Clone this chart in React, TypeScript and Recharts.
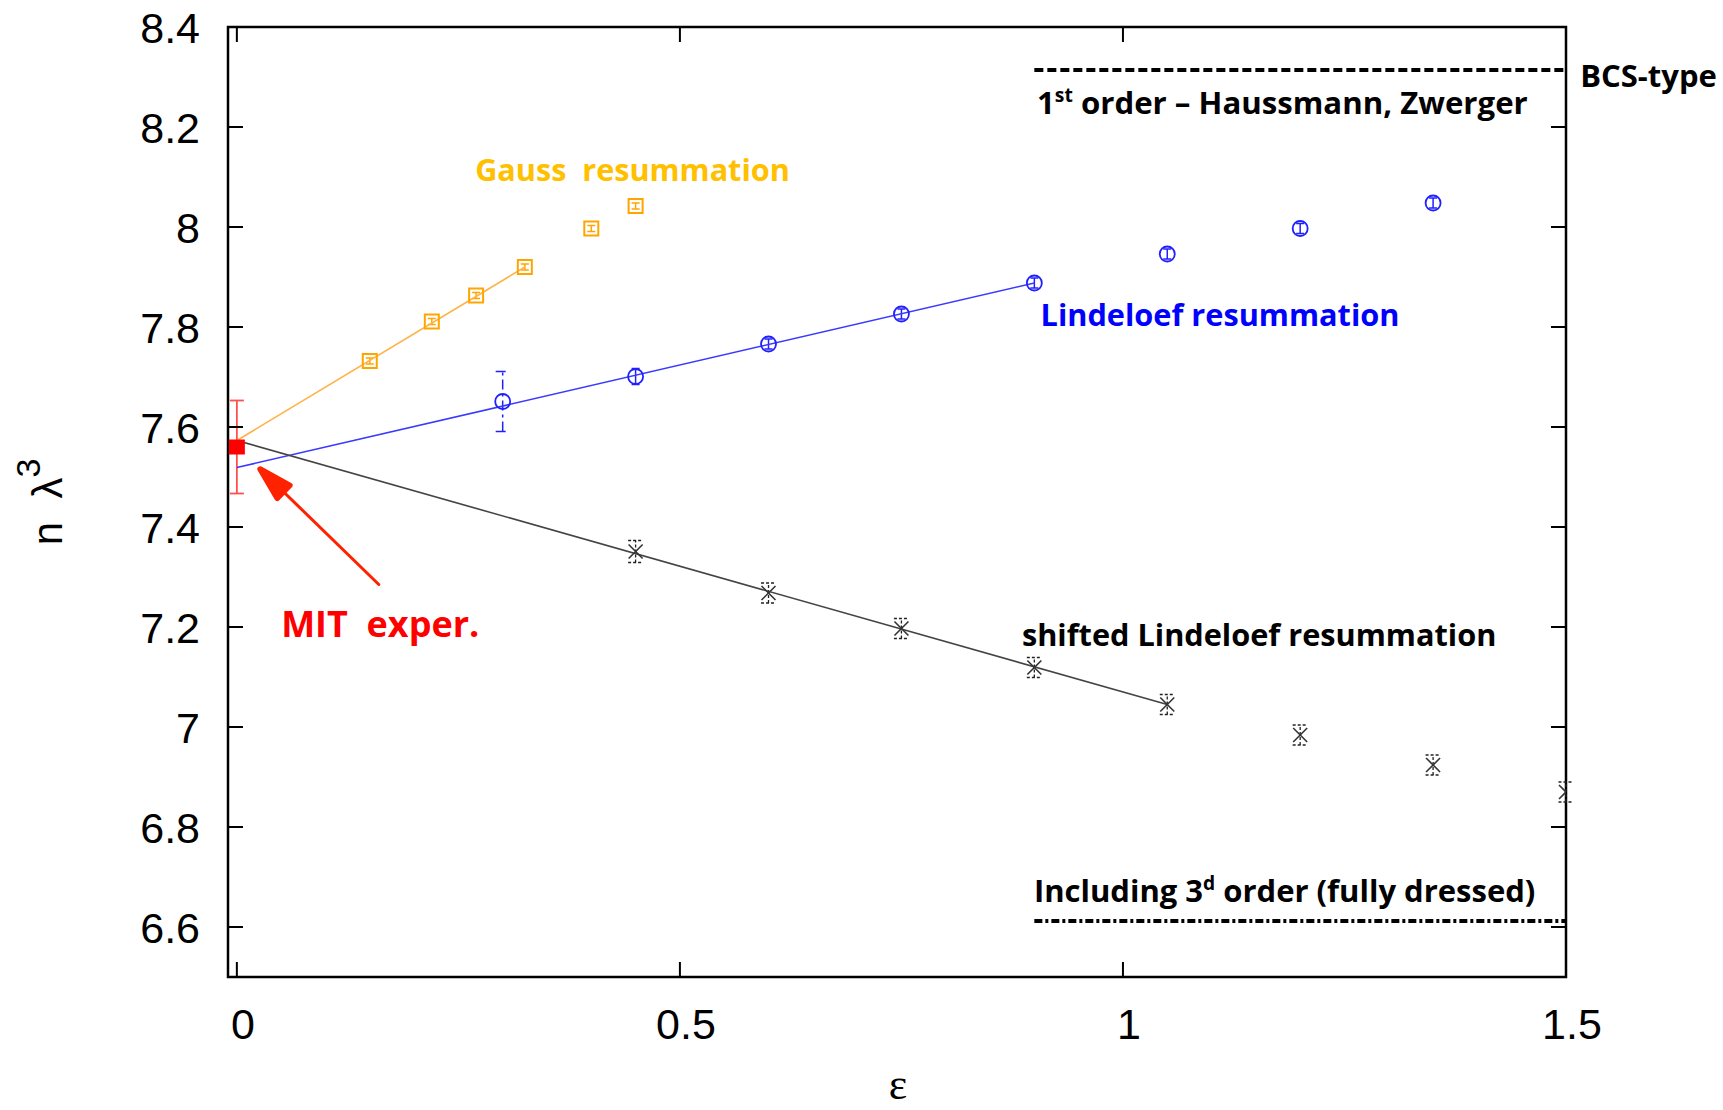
import React from 'react';
import {
  ScatterChart,
  Scatter,
  XAxis,
  YAxis,
  ErrorBar,
  ReferenceLine,
  ReferenceArea,
  ReferenceDot,
} from 'recharts';

// Gauss resummation (orange squares)
const gaussEps = [0.15, 0.22, 0.27, 0.325, 0.4, 0.45];
const gaussN = [7.732, 7.811, 7.863, 7.92, 7.997, 8.042];
const gaussErr = [0.006, 0.006, 0.006, 0.006, 0.006, 0.006];

// Lindeloef resummation (blue circles)
const lindEps = [0.3, 0.45, 0.6, 0.75, 0.9, 1.05, 1.2, 1.35];
const lindN = [7.651, 7.701, 7.766, 7.826, 7.888, 7.946, 7.997, 8.048];
const lindErr = [0.06, 0.016, 0.01, 0.01, 0.01, 0.01, 0.01, 0.01];

// shifted Lindeloef resummation (black crosses)
const shiftEps = [0.45, 0.6, 0.75, 0.9, 1.05, 1.2, 1.35, 1.5];
const shiftN = [7.351, 7.268, 7.197, 7.119, 7.045, 6.984, 6.924, 6.87];
const shiftErr = [0.022, 0.02, 0.02, 0.02, 0.02, 0.02, 0.02, 0.02];

// MIT experiment
const mitEps = [0];
const mitN = [7.56];
const mitErr = [0.093];

// linear extrapolations to eps = 0
const gaussFit = [{ x: 0, y: 7.573 }, { x: 0.325, y: 7.92 }];
const lindFit = [{ x: 0, y: 7.519 }, { x: 0.9, y: 7.888 }];
const shiftFit = [{ x: 0, y: 7.573 }, { x: 1.05, y: 7.045 }];

// horizontal reference results
const bcsLevel = 8.314;
const thirdOrderLevel = 6.612;
const refLineStart = 0.9;

const xDomain = [-0.01, 1.5];
const yDomain = [6.5, 8.4];
const xTicks = [0, 0.5, 1, 1.5];
const yTicks = [6.6, 6.8, 7, 7.2, 7.4, 7.6, 7.8, 8, 8.2, 8.4];

const toPoints = (xs: number[], ys: number[], errs: number[]) =>
  xs.map((x, i) => ({ x, y: ys[i], err: errs[i] }));

const gaussPts = toPoints(gaussEps, gaussN, gaussErr);
const lindPts = toPoints(lindEps, lindN, lindErr);
const shiftPts = toPoints(shiftEps, shiftN, shiftErr);
const mitPts = toPoints(mitEps, mitN, mitErr);

const PLOT_W = 1338;
const PLOT_H = 950;
const TICK = 15;
const NUM_FONT = "'Liberation Sans', Arial, sans-serif";
const TEXT_FONT = "'Open Sans', 'Noto Sans', sans-serif";

type Part = { t: string; sup?: boolean };
type Note = { x: number; y: number; parts: Part[]; color: string; size: number };

const notes: Note[] = [
  { x: 0.269, y: 8.093, parts: [{ t: 'Gauss  resummation' }], color: '#ffc000', size: 30.6 },
  { x: 0.907, y: 7.803, parts: [{ t: 'Lindeloef resummation' }], color: '#0000ff', size: 30.7 },
  { x: 0.886, y: 7.162, parts: [{ t: 'shifted Lindeloef resummation' }], color: '#000', size: 30.7 },
  { x: 0.05, y: 7.18, parts: [{ t: 'MIT  exper.' }], color: '#ff0000', size: 36 },
  {
    x: 0.903,
    y: 8.226,
    parts: [{ t: '1' }, { t: 'st', sup: true }, { t: ' order – Haussmann, Zwerger' }],
    color: '#000',
    size: 31.2,
  },
  { x: 1.516, y: 8.28, parts: [{ t: 'BCS-type' }], color: '#000', size: 31 },
  {
    x: 0.8995,
    y: 6.65,
    parts: [{ t: 'Including 3' }, { t: 'd', sup: true }, { t: ' order (fully dressed)' }],
    color: '#000',
    size: 31,
  },
];

const arrowTail = { x: 0.1602, y: 7.285 };
const arrowTip = { x: 0.0262, y: 7.516 };

const XTick = (props: any) => {
  const { x, y, payload } = props;
  return (
    <g>
      <line x1={x} y1={y} x2={x} y2={y - TICK} stroke="#000" strokeWidth={2} />
      <line x1={x} y1={y - PLOT_H} x2={x} y2={y - PLOT_H + TICK} stroke="#000" strokeWidth={2} />
      <text x={x + 6} y={y + 61.5} textAnchor="middle" fontSize={43} fontFamily={NUM_FONT} fill="#000">
        {String(payload.value)}
      </text>
    </g>
  );
};

const YTick = (props: any) => {
  const { x, y, payload } = props;
  return (
    <g>
      <line x1={x} y1={y} x2={x + TICK} y2={y} stroke="#000" strokeWidth={2} />
      <line x1={x + PLOT_W - TICK} y1={y} x2={x + PLOT_W} y2={y} stroke="#000" strokeWidth={2} />
      <text x={x - 28} y={y + 15.5} textAnchor="end" fontSize={43} fontFamily={NUM_FONT} fill="#000">
        {String(payload.value)}
      </text>
    </g>
  );
};

const XTitle = (props: any) => {
  const vb = props.viewBox || { x: 228, y: 977, width: PLOT_W, height: 133 };
  return (
    <text
      x={vb.x + vb.width / 2 + 1}
      y={vb.y + 122}
      textAnchor="middle"
      fontSize={44}
      fontFamily="'Liberation Serif', 'DejaVu Serif', serif"
      fill="#000"
    >
      ε
    </text>
  );
};

const YTitle = (props: any) => {
  const vb = props.viewBox || { x: 0, y: 27, width: 228, height: PLOT_H };
  const cy = vb.y + vb.height / 2;
  return (
    <text
      transform={`translate(${vb.x + 62}, ${cy}) rotate(-90)`}
      textAnchor="middle"
      fontSize={42}
      fontFamily={NUM_FONT}
      fill="#000"
      style={{ whiteSpace: 'pre' }}
    >
      {'n  λ'}
      <tspan fontSize={34} dy={-22}>
        3
      </tspan>
    </text>
  );
};

const Square = (p: any) => (
  <rect x={p.cx - 7} y={p.cy - 7} width={14} height={14} fill="none" stroke="#ffa500" strokeWidth={2} />
);
const Ring = (p: any) => <circle cx={p.cx} cy={p.cy} r={7.5} fill="none" stroke="#2020ff" strokeWidth={1.8} />;
const Cross = (p: any) => (
  <g stroke="#333" strokeWidth={1.6}>
    <line x1={p.cx - 7} y1={p.cy - 7} x2={p.cx + 7} y2={p.cy + 7} />
    <line x1={p.cx - 7} y1={p.cy + 7} x2={p.cx + 7} y2={p.cy - 7} />
  </g>
);
const RedSquare = (p: any) => <rect x={p.cx - 8} y={p.cy - 7.5} width={16} height={15} fill="#ff0000" />;
const NoDot = () => <g />;

const Arrow = (p: any) => {
  const { x1, y1, x2, y2 } = p;
  const ang = Math.atan2(y1 - y2, x1 - x2);
  const L = 34;
  const h = 0.27;
  const w1 = `${x2 + L * Math.cos(ang + h)},${y2 + L * Math.sin(ang + h)}`;
  const w2 = `${x2 + L * Math.cos(ang - h)},${y2 + L * Math.sin(ang - h)}`;
  return (
    <g stroke="#ff2200" strokeLinecap="round" strokeLinejoin="round">
      <line x1={x1} y1={y1} x2={x2} y2={y2} strokeWidth={3} />
      <polygon points={`${w1} ${x2},${y2} ${w2}`} fill="#ff2200" strokeWidth={5.5} />
    </g>
  );
};

const noteShape = (n: Note) => (p: any) => {
  let raised = false;
  return (
    <text
      x={p.cx}
      y={p.cy}
      fill={n.color}
      fontSize={n.size}
      fontWeight={700}
      fontFamily={TEXT_FONT}
      style={{ whiteSpace: 'pre' }}
    >
      {n.parts.map((part, i) => {
        if (part.sup) {
          raised = true;
          return (
            <tspan key={i} fontSize={n.size * 0.62} dy={-n.size * 0.4}>
              {part.t}
            </tspan>
          );
        }
        const dy = raised ? n.size * 0.4 : 0;
        raised = false;
        return (
          <tspan key={i} dy={dy}>
            {part.t}
          </tspan>
        );
      })}
    </text>
  );
};

export default function App() {
  return (
    <div style={{ position: 'absolute', left: 0, top: 0, width: 1723, height: 1110, background: '#fff' }}>
      <ScatterChart width={1723} height={1110} margin={{ top: 27, right: 157, bottom: 0, left: 0 }}>
        <XAxis
          type="number"
          dataKey="x"
          domain={xDomain}
          ticks={xTicks}
          interval={0}
          height={133}
          tickSize={0}
          tickMargin={0}
          tickLine={false}
          axisLine={false}
          tick={XTick}
          allowDataOverflow
          label={XTitle}
        />
        <YAxis
          type="number"
          dataKey="y"
          domain={yDomain}
          ticks={yTicks}
          interval={0}
          width={228}
          tickSize={0}
          tickMargin={0}
          tickLine={false}
          axisLine={false}
          tick={YTick}
          allowDataOverflow
          label={YTitle}
        />

        <ReferenceArea
          x1={xDomain[0]}
          x2={xDomain[1]}
          y1={yDomain[0]}
          y2={yDomain[1]}
          fill="none"
          fillOpacity={0}
          stroke="#000"
          strokeWidth={2.5}
          ifOverflow="visible"
        />

        <ReferenceLine
          segment={[{ x: refLineStart, y: bcsLevel }, { x: xDomain[1], y: bcsLevel }]}
          stroke="#000"
          strokeWidth={4}
          strokeDasharray="9 4"
          ifOverflow="visible"
        />
        <ReferenceLine
          segment={[{ x: refLineStart, y: thirdOrderLevel }, { x: xDomain[1], y: thirdOrderLevel }]}
          stroke="#000"
          strokeWidth={4}
          strokeDasharray="8 3 3 3"
          ifOverflow="visible"
        />

        <Scatter data={gaussFit} shape={NoDot} line={{ stroke: '#ffb347', strokeWidth: 1.6 }} isAnimationActive={false} />
        <Scatter data={lindFit} shape={NoDot} line={{ stroke: '#3a3aff', strokeWidth: 1.6 }} isAnimationActive={false} />
        <Scatter data={shiftFit} shape={NoDot} line={{ stroke: '#444', strokeWidth: 1.6 }} isAnimationActive={false} />

        <Scatter data={gaussPts} shape={Square} isAnimationActive={false}>
          <ErrorBar dataKey="err" direction="y" width={4} stroke="#ffa500" strokeWidth={1.5} isAnimationActive={false} />
        </Scatter>
        <Scatter data={lindPts.filter((p) => p.err < 0.03)} shape={Ring} isAnimationActive={false}>
          <ErrorBar dataKey="err" direction="y" width={4} stroke="#2020ff" strokeWidth={1.5} isAnimationActive={false} />
        </Scatter>
        <Scatter data={lindPts.filter((p) => p.err >= 0.03)} shape={Ring} isAnimationActive={false}>
          <ErrorBar
            dataKey="err"
            direction="y"
            width={7}
            stroke="#2020ff"
            strokeWidth={1.5}
            strokeDasharray="10 4 3 4"
            isAnimationActive={false}
          />
        </Scatter>
        <Scatter data={shiftPts} shape={Cross} isAnimationActive={false}>
          <ErrorBar
            dataKey="err"
            direction="y"
            width={7.5}
            stroke="#222"
            strokeWidth={1.3}
            strokeDasharray="3 2"
            isAnimationActive={false}
          />
        </Scatter>
        <Scatter data={mitPts} shape={RedSquare} isAnimationActive={false}>
          <ErrorBar dataKey="err" direction="y" width={7} stroke="#ff5050" strokeWidth={1.8} isAnimationActive={false} />
        </Scatter>

        <ReferenceLine segment={[arrowTail, arrowTip]} shape={Arrow} ifOverflow="visible" />

        {notes.map((n, i) => (
          <ReferenceDot key={i} x={n.x} y={n.y} r={0} ifOverflow="visible" shape={noteShape(n)} />
        ))}
      </ScatterChart>
    </div>
  );
}
